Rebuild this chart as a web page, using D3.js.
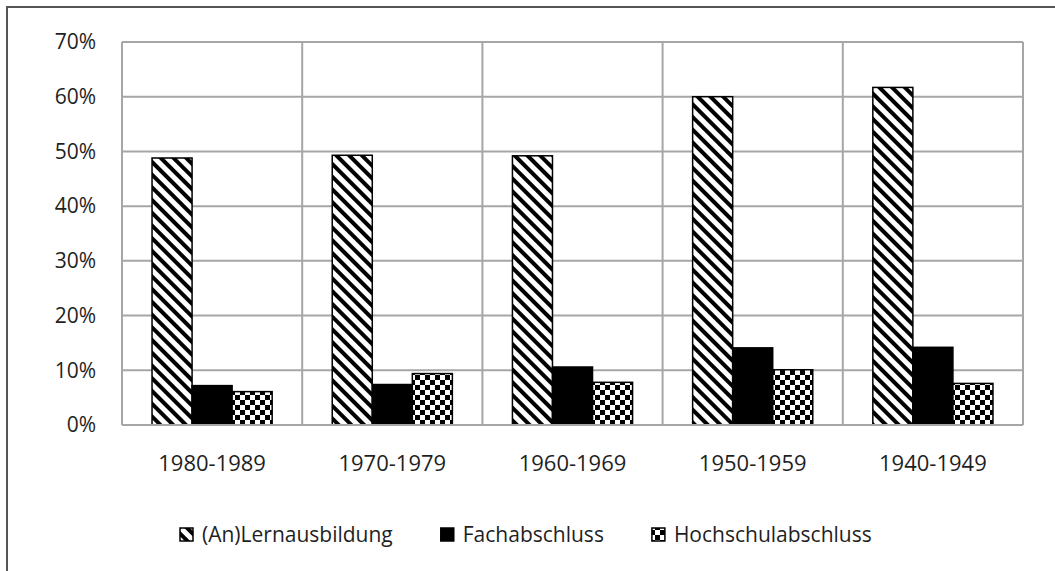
<!DOCTYPE html>
<html>
<head>
<meta charset="utf-8">
<script src="https://cdn.jsdelivr.net/npm/d3@7"></script>
<style>
  body { margin: 0; background: #fff; }
  text { font-family: 'Open Sans', sans-serif; fill: #1f1f1f; }
</style>
</head>
<body>
<script>
const w = 1055,
  h = 571;

const categories = ['1980-1989', '1970-1979', '1960-1969', '1950-1959', '1940-1949'];
const series = ['(An)Lernausbildung', 'Fachabschluss', 'Hochschulabschluss'];
const lernausbildung = [0.488, 0.493, 0.492, 0.600, 0.617];
const fachabschluss = [0.072, 0.074, 0.106, 0.141, 0.142];
const hochschulabschluss = [0.061, 0.094, 0.078, 0.101, 0.076];
const yTicks = [0, 0.1, 0.2, 0.3, 0.4, 0.5, 0.6, 0.7];

const values = [lernausbildung, fachabschluss, hochschulabschluss];
const fills = ['url(#stripes)', '#000', 'url(#checks)'];

const plot = { left: 122, right: 1023, top: 42, bottom: 425 };

const svg = d3.select('body')
  .append('svg')
  .attr('width', w)
  .attr('height', h);

// patterns
const defs = svg.append('defs');
const stripes = defs.append('pattern')
  .attr('id', 'stripes')
  .attr('patternUnits', 'userSpaceOnUse')
  .attr('width', 9)
  .attr('height', 9)
  .attr('patternTransform', 'rotate(-45)');
stripes.append('rect').attr('width', 9).attr('height', 9).attr('fill', '#fff');
stripes.append('rect').attr('width', 4).attr('height', 9).attr('fill', '#000');

const checks = defs.append('pattern')
  .attr('id', 'checks')
  .attr('patternUnits', 'userSpaceOnUse')
  .attr('width', 10)
  .attr('height', 10);
checks.append('rect').attr('width', 10).attr('height', 10).attr('fill', '#fff');
checks.append('rect').attr('width', 5).attr('height', 5).attr('fill', '#000');
checks.append('rect').attr('x', 5).attr('y', 5).attr('width', 5).attr('height', 5).attr('fill', '#000');

// outer frame
svg.append('rect')
  .attr('x', 7)
  .attr('y', 7)
  .attr('width', w + 20)
  .attr('height', h + 20)
  .attr('fill', 'none')
  .attr('stroke', '#555')
  .attr('stroke-width', 2);

const xScale = d3.scaleBand()
  .domain(categories)
  .range([plot.left, plot.right]);

const innerScale = d3.scaleBand()
  .domain(series)
  .range([0, xScale.bandwidth()])
  .paddingOuter(0.75);

const yScale = d3.scaleLinear()
  .domain([0, 0.7])
  .range([plot.bottom, plot.top]);

// gridlines
svg.append('g')
  .selectAll('line')
  .data(yTicks)
  .enter()
  .append('line')
  .attr('x1', plot.left)
  .attr('x2', plot.right)
  .attr('y1', d => yScale(d))
  .attr('y2', d => yScale(d))
  .attr('stroke', '#a6a6a6')
  .attr('stroke-width', 2);

const edges = categories.map(c => xScale(c)).concat([plot.right]);
svg.append('g')
  .selectAll('line')
  .data(edges)
  .enter()
  .append('line')
  .attr('x1', d => d)
  .attr('x2', d => d)
  .attr('y1', plot.top)
  .attr('y2', plot.bottom)
  .attr('stroke', '#a6a6a6')
  .attr('stroke-width', 2);

// bars
series.forEach((s, i) => {
  svg.append('g')
    .selectAll('rect')
    .data(values[i])
    .enter()
    .append('rect')
    .attr('x', (d, j) => xScale(categories[j]) + innerScale(s))
    .attr('y', d => yScale(d))
    .attr('width', innerScale.bandwidth())
    .attr('height', d => yScale(0) - yScale(d))
    .attr('fill', fills[i])
    .attr('stroke', '#000')
    .attr('stroke-width', 1.5);
});

// bottom line over bars
svg.append('line')
  .attr('x1', plot.left)
  .attr('x2', plot.right)
  .attr('y1', plot.bottom)
  .attr('y2', plot.bottom)
  .attr('stroke', '#a6a6a6')
  .attr('stroke-width', 2);

// y axis labels
const yAxis = d3.axisLeft(yScale)
  .tickValues(yTicks)
  .tickFormat(d3.format('.0%'))
  .tickSize(0)
  .tickPadding(26);

svg.append('g')
  .attr('transform', `translate(${plot.left}, 0)`)
  .call(yAxis)
  .call(g => g.select('.domain').remove())
  .selectAll('text')
  .attr('font-size', 21)
  .attr('font-family', "'Open Sans', sans-serif")
  .attr('fill', '#1f1f1f');

// x axis labels
const xAxis = d3.axisBottom(xScale)
  .tickSize(0)
  .tickPadding(30);

svg.append('g')
  .attr('transform', `translate(0, ${plot.bottom})`)
  .call(xAxis)
  .call(g => g.select('.domain').remove())
  .selectAll('text')
  .attr('font-size', 22)
  .attr('font-family', "'Open Sans', sans-serif")
  .attr('fill', '#1f1f1f');

// legend
const legend = svg.append('g');
let lx = 180;
series.forEach((s, i) => {
  legend.append('rect')
    .attr('x', lx)
    .attr('y', 528)
    .attr('width', 13)
    .attr('height', 13)
    .attr('fill', fills[i])
    .attr('stroke', '#000')
    .attr('stroke-width', 1.5);
  const t = legend.append('text')
    .attr('x', lx + 22)
    .attr('y', 535)
    .attr('dy', '0.35em')
    .attr('font-size', 21)
    .text(s);
  lx += 22 + t.node().getComputedTextLength() + 48;
});
</script>
</body>
</html>
